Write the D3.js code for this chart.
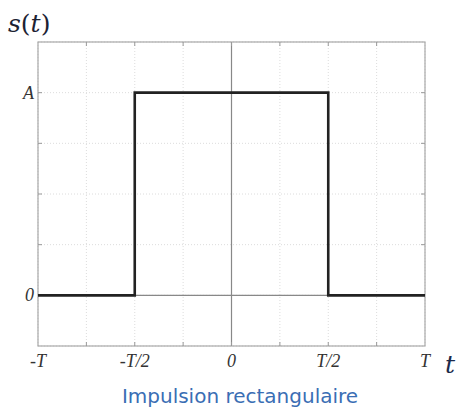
<!DOCTYPE html>
<html>
<head>
<meta charset="utf-8">
<script src="https://cdn.jsdelivr.net/npm/d3@7"></script>
<style>
  body { margin: 0; background: #fff; }
  svg { display: block; }
</style>
</head>
<body>
<div id="chart"></div>
<script>
// signal s(t) : rectangular pulse, t in units of T, amplitude in units of A
var tValues = [-1, -0.5, -0.5, 0.5, 0.5, 1];
var sValues = [0, 0, 1, 1, 0, 0];

var xTicks = [-1, -0.75, -0.5, -0.25, 0, 0.25, 0.5, 0.75, 1];
var xTickLabels = {"-1": "-T", "-0.5": "-T/2", "0": "0", "0.5": "T/2", "1": "T"};
var yTicks = [-0.25, 0, 0.25, 0.5, 0.75, 1, 1.25];
var yTickLabels = {"0": "0", "1": "A"};

var width = 461, height = 410;
var margin = {top: 42, right: 36, bottom: 64, left: 38};

var svg = d3.select("#chart").append("svg")
	.attr("width", width)
	.attr("height", height);

var x = d3.scaleLinear().domain([-1, 1]).range([margin.left, width - margin.right]);
var y = d3.scaleLinear().domain([-0.25, 1.25]).range([height - margin.bottom, margin.top]);

var g = svg.append("g");

// dotted grid
g.selectAll("line.vgrid")
	.data(xTicks)
	.enter().append("line")
	.attr("x1", function(d) { return x(d); })
	.attr("x2", function(d) { return x(d); })
	.attr("y1", y(-0.25))
	.attr("y2", y(1.25))
	.style("stroke", "#dcdcdc")
	.style("stroke-width", 1)
	.style("stroke-dasharray", "1,2");

g.selectAll("line.hgrid")
	.data(yTicks)
	.enter().append("line")
	.attr("x1", x(-1))
	.attr("x2", x(1))
	.attr("y1", function(d) { return y(d); })
	.attr("y2", function(d) { return y(d); })
	.style("stroke", "#dcdcdc")
	.style("stroke-width", 1)
	.style("stroke-dasharray", "1,2");

// zero axes
g.append("line")
	.attr("x1", x(0)).attr("x2", x(0))
	.attr("y1", y(-0.25)).attr("y2", y(1.25))
	.style("stroke", "#888").style("stroke-width", 1.2);
g.append("line")
	.attr("x1", x(-1)).attr("x2", x(1))
	.attr("y1", y(0)).attr("y2", y(0))
	.style("stroke", "#888").style("stroke-width", 1.2);

// frame
g.append("rect")
	.attr("x", x(-1)).attr("y", y(1.25))
	.attr("width", x(1) - x(-1))
	.attr("height", y(-0.25) - y(1.25))
	.style("fill", "none")
	.style("stroke", "#a8a8a8")
	.style("stroke-width", 1.2);

// inner tick marks (matlab style)
var tickLen = 4;
xTicks.slice(1, -1).forEach(function(d) {
	g.append("line").attr("x1", x(d)).attr("x2", x(d))
		.attr("y1", y(-0.25)).attr("y2", y(-0.25) - tickLen)
		.style("stroke", "#999");
	g.append("line").attr("x1", x(d)).attr("x2", x(d))
		.attr("y1", y(1.25)).attr("y2", y(1.25) + tickLen)
		.style("stroke", "#999");
});
yTicks.slice(1, -1).forEach(function(d) {
	g.append("line").attr("x1", x(-1)).attr("x2", x(-1) + tickLen)
		.attr("y1", y(d)).attr("y2", y(d))
		.style("stroke", "#999");
	g.append("line").attr("x1", x(1)).attr("x2", x(1) - tickLen)
		.attr("y1", y(d)).attr("y2", y(d))
		.style("stroke", "#999");
});

// signal
var pts = tValues.map(function(t, i) { return [t, sValues[i]]; });
var line = d3.line()
	.x(function(d) { return x(d[0]); })
	.y(function(d) { return y(d[1]); });

g.append("path")
	.datum(pts)
	.attr("d", line)
	.style("fill", "none")
	.style("stroke", "#222")
	.style("stroke-width", 2.6);

// tick labels
g.selectAll("text.xlab")
	.data(xTicks.filter(function(d) { return xTickLabels[d] !== undefined; }))
	.enter().append("text")
	.attr("x", function(d) { return x(d); })
	.attr("y", y(-0.25) + 21)
	.attr("text-anchor", "middle")
	.style("font-family", "'Liberation Serif', 'DejaVu Serif', serif")
	.style("font-style", "italic")
	.style("font-size", "18px")
	.style("fill", "#333")
	.text(function(d) { return xTickLabels[d]; });

g.selectAll("text.ylab")
	.data(yTicks.filter(function(d) { return yTickLabels[d] !== undefined; }))
	.enter().append("text")
	.attr("x", x(-1) - 4)
	.attr("y", function(d) { return y(d) + 6; })
	.attr("text-anchor", "end")
	.style("font-family", "'Liberation Serif', 'DejaVu Serif', serif")
	.style("font-style", "italic")
	.style("font-size", "18px")
	.style("fill", "#333")
	.text(function(d) { return yTickLabels[d]; });

// axis names
svg.append("text")
	.attr("x", 8).attr("y", 32)
	.style("font-family", "'DejaVu Serif', serif")
	.style("font-size", "25px")
	.style("fill", "#1c2233")
	.html('<tspan font-style="italic">s</tspan>(<tspan font-style="italic">t</tspan>)');

svg.append("text")
	.attr("x", 445).attr("y", 373)
	.style("font-family", "'DejaVu Serif', serif")
	.style("font-style", "italic")
	.style("font-size", "25px")
	.style("fill", "#1c2a4a")
	.text("t");

// title
svg.append("text")
	.attr("x", 240).attr("y", 403)
	.attr("text-anchor", "middle")
	.style("font-family", "'DejaVu Sans', sans-serif")
	.style("font-size", "20px")
	.style("fill", "#3a6eb4")
	.text("Impulsion rectangulaire");
</script>
</body>
</html>
